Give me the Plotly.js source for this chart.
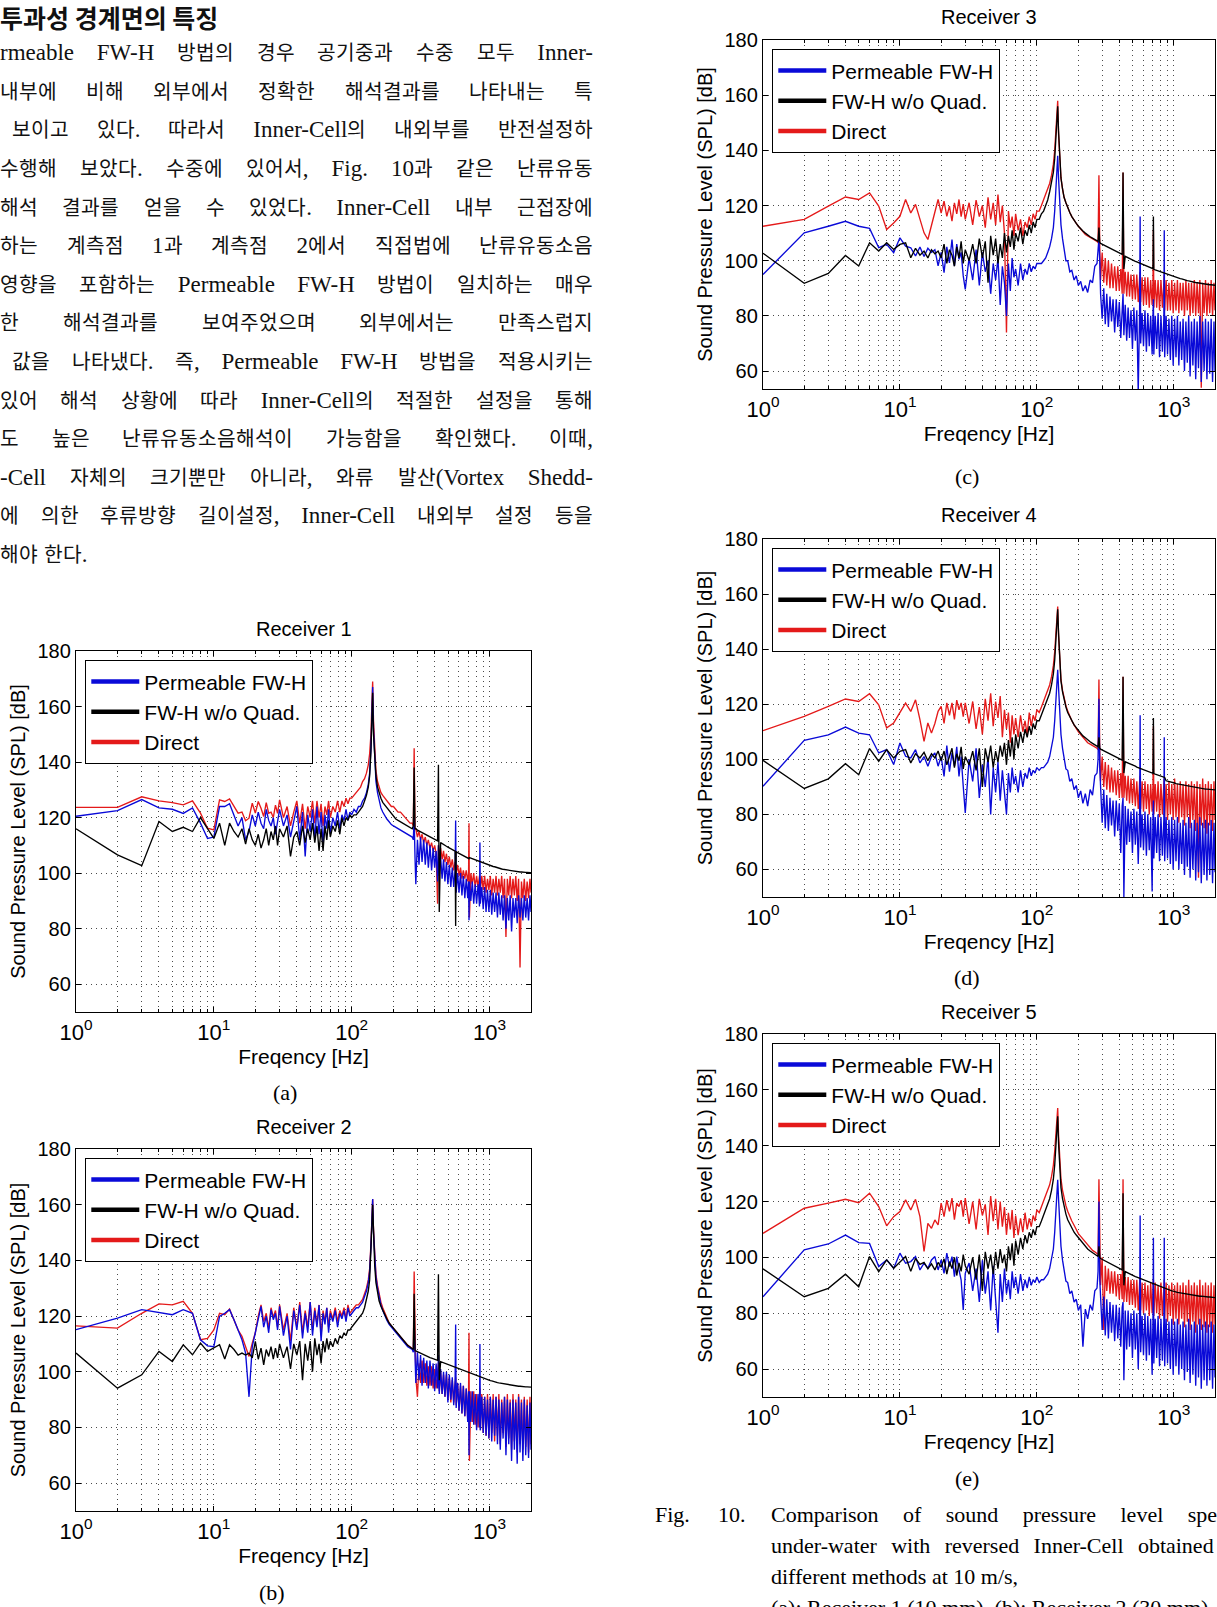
<!DOCTYPE html>
<html>
<head>
<meta charset="utf-8">
<script src="https://cdn.plot.ly/plotly-3.0.1.min.js"></script>
<style>
@font-face{font-family:"KRText";src:local("Noto Sans CJK KR"),local("Noto Sans CJK KR Regular"),local("NotoSansCJKkr-Regular"),local("NotoSansCJKKR-Regular");size-adjust:88%;unicode-range:U+1100-11FF,U+3130-318F,U+AC00-D7AF;}
html,body{margin:0;padding:0;background:#fff;}
#page{position:relative;width:1217px;height:1607px;overflow:hidden;background:#fff;}
#chart{position:absolute;left:0;top:0;width:1217px;height:1607px;}
.txt{position:absolute;left:0;width:593px;height:38px;line-height:38px;font-family:"Liberation Serif","KRText","Noto Sans CJK KR",serif;font-size:23px;color:#111;white-space:nowrap;}
.j{text-align:justify;text-align-last:justify;text-justify:inter-word;white-space:normal;}
.head{top:0;height:34px;line-height:34px;font-family:"Noto Sans CJK KR",sans-serif;font-weight:bold;font-size:25px;}
.cap{position:absolute;height:31px;line-height:31px;font-family:"Liberation Serif",serif;font-size:22px;color:#000;white-space:nowrap;}
.capj{left:771px;width:479px;text-align:justify;text-align-last:justify;white-space:normal;}
</style>
</head>
<body>
<div id="page">
<div id="chart"></div>
<div class="txt head">투과성 경계면의 특징</div>
<div class="txt j" style="top:34px;">rmeable FW-H 방법의 경우 공기중과 수중 모두 Inner-</div>
<div class="txt j" style="top:73px;">내부에 비해 외부에서 정확한 해석결과를 나타내는 특</div>
<div class="txt j" style="top:111px;left:12px;width:581px;">보이고 있다. 따라서 Inner-Cell의 내외부를 반전설정하</div>
<div class="txt j" style="top:150px;">수행해 보았다. 수중에 있어서, Fig. 10과 같은 난류유동</div>
<div class="txt j" style="top:189px;">해석 결과를 얻을 수 있었다. Inner-Cell 내부 근접장에</div>
<div class="txt j" style="top:227px;">하는 계측점 1과 계측점 2에서 직접법에 난류유동소음</div>
<div class="txt j" style="top:266px;">영향을 포함하는 Permeable FW-H 방법이 일치하는 매우</div>
<div class="txt j" style="top:304px;">한 해석결과를 보여주었으며 외부에서는 만족스럽지</div>
<div class="txt j" style="top:343px;left:12px;width:581px;">값을 나타냈다. 즉, Permeable FW-H 방법을 적용시키는</div>
<div class="txt j" style="top:382px;">있어 해석 상황에 따라 Inner-Cell의 적절한 설정을 통해</div>
<div class="txt j" style="top:420px;">도 높은 난류유동소음해석이 가능함을 확인했다. 이때,</div>
<div class="txt j" style="top:459px;">-Cell 자체의 크기뿐만 아니라, 와류 발산(Vortex Shedd-</div>
<div class="txt j" style="top:497px;">에 의한 후류방향 길이설정, Inner-Cell 내외부 설정 등을</div>
<div class="txt" style="top:536px;">해야 한다.</div>

<div class="cap" style="left:655px;top:1499px;">Fig.</div>
<div class="cap" style="left:718px;top:1499px;">10.</div>
<div class="cap capj" style="top:1499px;">Comparison of sound pressure level spectra</div>
<div class="cap capj" style="top:1530px;">under-water with reversed Inner-Cell obtained by</div>
<div class="cap" style="left:771px;top:1561px;">different methods at 10 m/s,</div>
<div class="cap" style="left:771px;top:1592px;">(a): Receiver 1 (10 mm), (b): Receiver 2 (30 mm),</div>
</div>

<script>
// ---------------- DATA ----------------
const freq = [
1,2,3,4,5,6,7,8,9,10,11,12,13,14,15,16,17,18,19,20,21,22,23,24,25,26,27,28,29,30,
32,34,36,38,40,42,44,46,48,50,52,54,56,58,60,62,64,66,68,70,73,76,79,82,85,88,91,94,97,100,104,108,112,116,120,124,128,132,135,138,
140,142,144,147,150,154,158,163,168,174,180,187,194,201,209,217,226,235,245,255,265,275,280,284,288,
292,300,308,316,324,333,342,351,360,370,380,390,400,410,420,426,432,442,453,464,
475,487,499,511,524,537,550,563,568,573,587,601,616,631,646,662,678,695,705,710,
715,732,750,768,787,806,826,846,852,858,879,900,922,944,967,990,1014,1038,1063,1089,
1115,1142,1169,1197,1226,1255,1285,1316,1347,1379,1412,1446,1480,1515,1551,1588,1626,1665,1705,1746,
1788,1831,1875,1920,1966,2000
];

// Receiver 1
const r1Blue = [
120.5,122.5,126.5,123.5,123,121.5,123.5,118,112.5,113,124,124,125,121,117,120,112,115,121,117,122,118,116,123,119,117,120,114,119,123,
117,121,113,119,124,112,122,106,121,115,123,112,124,114,122,110,121,116,123,114,120,117,122,116,121,119,123,119,122,121,123,122,124,124,126,127,129,132,136,145,
157,167,152,140,133,129,126,123.5,122,120.5,119.5,118.5,117.5,117,116.5,116,115.5,115,114.5,114,113.5,113,112,120,106,
96,112,103,113,104,112,103,111,102,110,101,109,102,108,97,110,99,106,98,105,
97,104,96,103,95,102,95,101,119,93,100,93,100,92,99,91,98,91,97,83,
97,90,97,89,96,89,96,88,111,89,95,87,95,86,94,86,94,85,93,86,
93,84,93,85,92,83,92,80,91,83,92,79,91,84,91,82,92,84,91,83,
92,84,91,83,92,86
];
const r1Black = [
116,106.6,102.7,118.6,115,116.5,115,120,116,112.5,118,110,118,115,113,116,110.5,116,112,110,114,109,112,116,110,115,112,117,110,116,
113,117,106,113,115,110,117,111,116,112,118,111,117,108,116,108,117,112,119,113,117,115,119,114,120,117,120,119,121,120,121,121,122,123,124,126,128,131,135,144,
155,165,150,140,135,131,129,127,125.5,124.5,123.5,122.5,121.5,120.5,119.5,119,118.5,118,117.5,117,116.5,116,117,138,116,
116,115.5,115.2,114.9,114.6,114.3,114,113.7,113.4,113.1,112.8,112.5,112.2,111.9,111.6,139,86,111,110.6,110.3,
110,109.7,109.4,109.1,108.8,108.5,108.2,107.9,81,107.7,107.4,107.1,106.8,106.5,106.2,106,105.7,105.4,105.3,105.2,
105.6,105.4,105.2,105,104.8,104.6,104.4,104.2,104.2,104.1,103.9,103.7,103.5,103.3,103.1,103,102.8,102.6,102.4,102.3,
102.1,101.9,101.8,101.6,101.5,101.4,101.3,101.2,101.1,101,100.9,100.8,100.7,100.7,100.6,100.5,100.5,100.4,100.4,100.3,
100.3,100.3,100.3,100.2,100.2,100.2
];
const r1Red = [
123.7,123.7,127.5,126,125.4,124.6,126,121.6,116.2,115.6,126.4,125.8,126.7,124.2,121.6,122,118.9,119.8,125.2,121.6,125.8,123.4,120.4,125.4,121.6,122,120,124.5,121.5,126.4,
120,124,117,122,126,118,125,116,124,120,126,118,126,120,125,117,124,121,126,120,124,122,126,122,126,124,127,125,127,127,128,129,130,131,133,134,136,139,143,150,
160,169,155,143,137,133,131,129,128,127,126,125,124,124,123,122,122,121,120,119,118,118,117,145,116,
116,113,115,112,114,111,113,110,112,109,111,108,110,107,89,110,106,109,105,108,
104,107,103,106,102,105,101,104,103,100,103,99,102,98,101,98,101,97,100,118,
84,100,96,100,95,99,95,99,97,94,99,94,99,93,98,94,99,92,98,93,
99,92,98,93,99,91,98,77,98,92,99,91,98,92,99,90,98,66,97,91,
98,90,97,91,98,93
];

// Receiver 2
const r2Blue = [
115.1,119.3,122.3,121.3,120.5,122.3,121,111.5,109.3,109,119.9,121,122.3,118.7,115,111.5,106.7,91,109,113.9,118.7,123.5,116,120,114,122.3,118.7,121,115,123.5,
113,120,108,122,115,124,112,121,114,125,113,122,116,124,111,121,117,123,114,121,118,122,116,121,119,122,118,123,120,121,122,123,123,124,125,127,129,132,136,145,
155,162,150,140,134,130,127,124,122,120,118.5,117,116,115,114,113,112,111,110,109,108.5,108,107,118,106,
96,107,97,106,95,105,96,104,94,104,95,103,93,103,94,106,92,101,92,100,
91,100,89,99,90,98,88,97,117,87,96,86,96,85,95,84,94,82,93,70,
93,82,93,81,92,79,92,80,110,79,91,78,91,77,90,76,91,75,90,77,
91,74,90,72,89,76,91,70,90,74,89,68,90,72,89,67,91,71,89,68,
90,70,88,69,89,72
];
const r2Black = [
106.7,94.1,98.9,107.3,103.7,109.7,106.1,110.3,107.3,108.5,109.7,104.6,109.7,108,106,106.7,106,106.7,105,110.9,104.5,108.5,102.5,108,105.5,109,104.5,108.5,105,110,
105,109,101,110,106,111,97,110,104,111,100,112,106,110,103,111,107,112,108,111,109,112,110,113,112,114,113,115,115,116,117,118,119,120,121,123,126,129,133,142,
152,160,148,138,132,128,125.5,123.5,122,120.5,119,117.5,116.5,115.5,114.5,113.5,112.5,111.5,110.5,109.5,109,108.5,108,128,107.5,
107.5,107.2,107,106.7,106.4,106.1,105.9,105.6,105.4,105.1,104.9,104.7,104.5,104.3,104.1,135,97,103.6,103.4,103.2,
103,102.8,102.6,102.4,102.2,102,101.8,101.6,101.5,101.4,101.2,101,100.8,100.6,100.4,100.2,100,99.8,99.7,99.6,
99.5,99.3,99.1,98.9,98.7,98.5,98.3,98.1,98,98,97.8,97.6,97.4,97.3,97.1,97,96.8,96.7,96.5,96.4,
96.3,96.1,96,95.9,95.8,95.7,95.6,95.5,95.4,95.3,95.2,95.1,95.1,95,94.9,94.9,94.8,94.8,94.7,94.7,
94.6,94.6,94.6,94.5,94.5,94.5
];
const r2Red = [
116.5,115.7,121,124.4,124,125.3,121,111.5,112,115,121,120.5,122.5,118.7,115,112.7,109,105.5,110.3,114,120,124,118,121,115.5,123,119.5,122,116,124,
115,121,111,123,116,125,114,122,116,125,115,123,117,124,113,122,118,123,116,122,119,123,118,122,120,123,119,124,121,122,123,124,124,125,126,128,130,133,137,146,
156,162,151,141,135,131,128,125,123,121,119,117.5,116.5,115.5,114.5,113.5,112.5,111.5,110.5,109.5,109,108.5,108,136,107,
98,91,103,96,104,96,103,95,102,95,102,94,101,94,100,103,93,100,92,99,
91,99,90,98,89,97,89,96,98,88,96,86,95,85,95,84,94,83,93,114,
68,93,82,93,81,92,80,92,94,79,92,78,91,77,92,76,91,78,92,75,
91,77,92,74,90,78,91,73,92,76,90,72,92,75,90,71,92,74,90,72,
91,73,90,71,91,74
];

// Receiver 3
const r3Blue = [
95,110.1,112.5,114.3,112.5,111.7,104.7,105.9,102.9,108.3,105.3,104.7,101.7,105,101.5,104.5,103,104,98.1,103,95.7,105,99.2,107.7,98.1,106,100.5,103,94.5,89.6,
101,93,104,91,103,96,100,88,99,93,101,84,98,92,80,99,89,101,94,97,91,99,93,97,95,99,96,98,97,99,99,99,100,101,103,105,108,112,118,127,
134,138,130,120,113,108,105,100,100,96,96.5,93,94.5,91,92.5,89,91,88.5,93,92,98,99,104,108,100,
88,79,90,77,88,76,87,78,86,74,86,76,85,72,84,88,73,84,71,83,
72,82,68,83,71,82,52,82,116,70,81,69,82,67,81,69,80,66,81,86,
66,80,68,81,65,80,67,79,111,65,80,66,79,64,80,62,79,65,80,62,
78,64,79,60,78,63,80,58,78,62,79,57,78,61,80,56,78,60,79,57,
78,59,79,56,78,60
];
const r3Black = [
102.7,91.8,95.4,101.9,98.1,106.5,103.5,106.5,104.1,105.9,106.5,101.1,104.5,102,103.5,101,104,102.5,103.5,101,106,99,104,102,98,105,101,107,99,104,
100,106,99,108,101,107,92,109,102,108,99,106,101,110,103,109,105,111,104,110,107,112,106,111,109,113,110,114,112,115,115,117,118,120,122,125,128,132,137,145,
151,156,147,136,130,126,123,121,119,117.5,116,114.5,113.5,112.5,111.5,110.8,110,109.3,108.7,108.2,107.7,107.3,107,112,106.6,
106.3,106,105.7,105.4,105.1,104.8,104.5,104.2,103.9,103.6,103.3,103,102.8,102.5,102.3,132,97,101.6,101.3,101.1,
100.8,100.6,100.3,100.1,99.8,99.6,99.4,99.1,99,98.9,98.7,98.5,98.2,98,97.8,97.6,97.4,97.2,97.1,116,
96.9,96.7,96.5,96.3,96.1,95.9,95.7,95.5,95.5,95.4,95.2,95,94.8,94.7,94.5,94.3,94.2,94,93.8,93.7,
93.5,93.4,93.2,93.1,92.9,92.8,92.7,92.5,92.4,92.3,92.2,92.1,92,91.9,91.8,91.7,91.6,91.6,91.5,91.4,
91.4,91.3,91.3,91.2,91.2,91.1
];
const r3Red = [
112.5,115,119.8,123.1,122.2,124.6,119.8,111.3,113.7,116.1,122.2,117.3,120.4,115,110.1,107.7,112.5,117.3,122.2,117.3,121.6,116.1,119.8,114.3,121,117,122.2,116,120.5,115,
121,113,122,116,120,112,123,115,121,113,124,114,120,110,74,118,112,116,109,117,111,115,109,114,112,116,113,117,115,118,118,120,122,124,126,128,131,135,140,148,
153,158,146,136,130,126,123,121,119,117.5,116,114.5,113.5,112.5,111.5,110.5,109.5,109,108.5,108,107.5,107,106.5,131,105,
93,103,92,101,91,100,90,99,90,98,89,98,89,97,88,132,88,96,87,96,
87,95,86,95,86,95,85,94,96,85,94,84,94,84,94,83,93,84,93,111,
83,93,83,93,82,93,83,92,95,82,93,82,92,82,93,81,92,82,93,81,
92,82,92,80,93,82,92,80,92,81,93,80,92,81,93,54,92,81,93,80,
92,81,93,80,92,82
];

// Receiver 4
const r4Blue = [
90.2,106.9,108.9,111.7,109.5,108.9,102.3,103.5,98.1,105.9,101.1,100.5,103.5,98.7,101,97.5,101,102.3,97.5,101,93.8,105,95.5,102.3,97.5,104.5,93.8,101,90.2,80.5,
100,92,104,86,98,90,101,80,97,88,99,85,96,89,80,95,88,97,91,94,88,96,90,95,93,97,94,96,95,97,96,97,97,98,99,101,104,108,114,123,
129,132.5,126,116,109,104,101,96.5,96,92,93,89,90.5,86,88.5,84,87.5,83,89,87,94,95,100,122,97,
88,77,89,75,87,74,86,76,85,72,85,74,84,66,83,86,50,83,69,82,
70,81,66,82,69,81,62,81,116,68,80,67,81,65,80,67,79,52,80,85,
64,79,66,80,63,79,65,78,108,63,79,64,78,62,79,60,78,63,79,60,
77,62,78,58,77,61,79,57,77,60,78,56,77,59,79,55,77,58,78,56,
77,58,78,55,77,59
];
const r4Black = [
99.6,89.4,92.9,98.4,94.4,103.9,99.3,103.5,100.5,102.9,103.5,98.7,102,100.5,102.5,99.5,102,100.5,103,99.5,103,98,101,104,97,102,99.5,104.5,96.5,101,
98,103,96,104,90,104,99,105,97,103,99,105,101,106,98,107,101,108,100,109,104,110,106,111,108,112,109,113,111,114,114,116,118,120,122,124,127,131,136,144,
150,154.5,146,135,128.5,124.5,121.5,119,117,115.5,114,112.5,111.5,110.5,109.5,108.5,107.8,107,106.4,105.8,105.3,104.8,104.5,108,104,
103.7,103.4,103.1,102.8,102.5,102.2,101.9,101.6,101.3,101,100.7,100.5,100.2,100,99.7,130,95,99.1,98.9,98.6,
98.4,98.1,97.9,97.7,97.5,97.2,97,96.8,96.7,96.6,96.4,96.2,96,95.8,95.6,95.4,95.2,95,94.9,115,
94.8,94.6,94.4,94.2,94,93.8,93.7,93.5,93.5,93.4,92.2,92.1,91.9,91.8,91.6,91.5,91.4,91.2,91.1,91,
90.9,90.8,90.6,90.5,90.4,90.3,90.2,90.1,90,89.9,89.8,89.7,89.6,89.5,89.5,89.4,89.3,89.3,89.2,89.2,
89.1,89.1,89,89,88.9,88.9
];
const r4Red = [
110.4,115.6,119.2,121.9,121,123.8,119.8,111.4,113.2,116.8,120.4,117.4,121.6,114.4,106.5,113.2,109.5,113,117.4,119.2,113,120.5,116,120.5,114.5,121.5,118,120.5,115.5,120.5,
113,121,111,119,109,122,114,124,112,121,115,123,108,118,111,117,106,116,109,115,108,116,110,114,109,117,112,116,114,118,117,119,121,123,125,127,130,134,139,147,
152,155.5,145,135,129,125,122,119.5,117.5,115.5,114,112.5,111,110,109,108,107,106,105.5,105,104.5,104,103.5,129,103,
92,101,90,99,89,98,88,97,88,96,87,96,86,95,86,130,86,94,85,94,
84,93,84,93,83,92,82,92,94,82,92,81,92,82,91,80,91,81,91,112,
80,91,81,92,79,91,80,91,93,79,91,78,92,80,91,78,93,79,91,77,
92,79,91,76,92,79,91,75,92,78,91,74,92,57,91,76,93,75,91,73,
92,76,91,74,92,78
];

// Receiver 5
const r5Blue = [
85.9,102.7,104.8,108,105.3,105,96.7,99.1,96.1,101.5,97.9,98.5,100.3,95.5,97.9,96.1,99.1,100.3,95.5,99.1,94.3,101.5,96.7,100.3,93.1,100.3,95.5,91.9,81.2,94.3,
98,88,96,84,99,87,95,81,97,86,73,94,84,96,87,92,85,95,89,93,87,94,88,92,89,93,90,92,91,93,91,92,92,93,94,96,99,103,109,118,
124,127.8,121,111,104,99,96,91.5,91,87,88,84,85,81,83,68,81.5,78,83,81,88,89,95,120,92,
84,74,86,72,85,71,84,73,83,70,83,71,82,68,82,84,56,81,67,81,
68,80,64,81,67,80,60,80,115,66,79,65,80,63,79,65,78,58,79,107,
62,78,64,79,61,78,63,77,107,61,78,62,77,60,78,58,77,61,78,58,
76,60,77,56,76,59,78,55,76,58,77,54,76,57,78,53,76,56,77,54,
76,56,77,53,76,57
];
const r5Black = [
95.9,85.9,88.9,94,89.5,100.3,94.9,99.1,96.1,98.5,100.3,95,99.6,97.5,98.2,95.9,97.7,95.5,98.2,96.5,99.5,94,98.5,96,100,93.5,98,95,101,97,
94,100,92,101,88,102,96,101,94,102,96,103,98,101,95,104,99,105,97,106,101,107,103,108,105,109,107,110,108,111,111,113,115,117,119,121,124,128,133,141,
146,150.5,141,131,125,121,118,115.5,113.5,112,110.5,109,108,107,106,105,104,103,102.3,101.7,101.2,100.7,100.3,104,99.9,
99.6,99.3,99,98.7,98.4,98.1,97.8,97.5,97.2,96.9,96.6,96.3,96,95.8,95.5,123,90,94.9,94.6,94.4,
94.1,93.9,93.6,93.4,93.1,92.9,92.7,92.4,92.3,92.2,92,91.8,91.6,91.4,91.2,91,90.8,90.6,90.5,90.4,
90.3,90.1,89.9,89.7,89.5,89.3,89.1,88.9,88.9,88.8,88.6,88.5,88.3,88.2,88,87.9,87.7,87.6,87.5,87.4,
87.3,87.2,87.1,87,86.9,86.8,86.7,86.6,86.5,86.4,86.4,86.3,86.2,86.2,86.1,86.1,86,86,85.9,85.9,
85.8,85.8,85.7,85.7,85.7,85.6
];
const r5Red = [
108.6,117.6,119.4,120.8,119.6,123,118.2,111.3,114.6,116.4,120.6,117,120.8,114.6,102.1,112.2,110.4,113.4,111.6,119.4,114.6,120.5,116.5,121.2,113.5,119.4,118.2,120.5,114.6,121.2,
112,120,110,121,115,119,108,122,113,121,110,120,111,118,108,116,110,117,107,115,108,114,109,116,110,114,111,115,113,117,116,118,120,122,124,126,129,133,138,146,
151,153.5,144,134,128,124,121,118.5,116.5,114.5,113,111.5,110,108.5,107.5,106.5,105.5,104.5,103.5,102.5,102,101.5,101,128,100.5,
90,100,74,97,88,96,87,95,87,95,86,94,85,94,85,128,84,93,84,93,
83,92,83,92,82,92,81,91,93,81,91,80,91,81,90,79,91,80,90,92,
79,91,80,90,78,91,79,90,92,78,91,77,90,79,91,76,90,78,91,76,
90,78,91,75,90,77,92,74,90,77,91,73,90,76,92,74,90,75,91,73,
90,75,91,73,90,76
];

const seriesNames = ['Permeable FW-H', 'FW-H w/o Quad.', 'Direct'];
const panelTitles = ['Receiver 1', 'Receiver 2', 'Receiver 3', 'Receiver 4', 'Receiver 5'];
const panelLabels = ['(a)', '(b)', '(c)', '(d)', '(e)'];
const xTickVals = [1, 10, 100, 1000];
const xTickText = ['10<sup>0</sup>', '10<sup>1</sup>', '10<sup>2</sup>', '10<sup>3</sup>'];
const xMinorVals = [2,3,4,5,6,7,8,9,20,30,40,50,60,70,80,90,200,300,400,500,600,700,800,900];
const yTickVals = [60, 80, 100, 120, 140, 160, 180];
const xTitle = 'Freqency [Hz]';
const yTitle = 'Sound Pressure Level (SPL) [dB]';

// ---------------- LAYOUT / STYLE ----------------
const W = 1217, H = 1607;
const colors = ['#0a0ad8', '#000000', '#e41a1a']; // blue, black, red
const panelData = [
  [r1Blue, r1Black, r1Red],
  [r2Blue, r2Black, r2Red],
  [r3Blue, r3Black, r3Red],
  [r4Blue, r4Black, r4Red],
  [r5Blue, r5Black, r5Red]
];
const boxes = [
  {l: 76,  r: 531,  t: 651,  b: 1012, ymin: 50,   ty: 629,  lx: 285, ly: 1092},
  {l: 76,  r: 531,  t: 1149, b: 1511, ymin: 50,   ty: 1127, lx: 272, ly: 1592},
  {l: 763, r: 1215, t: 40,   b: 389,  ymin: 53.5, ty: 17,   lx: 967, ly: 477},
  {l: 763, r: 1215, t: 539,  b: 897,  ymin: 50,   ty: 515,  lx: 967, ly: 977},
  {l: 763, r: 1215, t: 1034, b: 1397, ymin: 50,   ty: 1012, lx: 967, ly: 1478}
];

const FONT = 'Liberation Sans, Arial, sans-serif';
const gridStyle = {gridcolor: '#4a4a4a', griddash: '1px,4px', gridwidth: 1};
const noValues = freq.map(() => null);  // legend-only traces draw nothing

const traces = [];
const layout = {
  width: W, height: H,
  margin: {l: 0, r: 0, t: 0, b: 0},
  paper_bgcolor: 'rgba(0,0,0,0)',
  plot_bgcolor: '#fff',
  font: {family: FONT, color: '#000'},
  showlegend: true,
  annotations: []
};

boxes.forEach((bx, p) => {
  const s = p === 0 ? '' : String(p + 1);
  const xa = 'x' + s, ya = 'y' + s;
  const leg = 'legend' + s;
  const vals = panelData[p];
  [2, 0, 1].forEach(k => {
    traces.push({
      type: 'scatter', mode: 'lines', x: freq, y: vals[k],
      xaxis: xa, yaxis: ya, name: seriesNames[k],
      line: {color: colors[k], width: 1.35}, showlegend: false, hoverinfo: 'skip'
    });
  });
  [0, 1, 2].forEach(k => {
    traces.push({
      type: 'scatter', mode: 'lines', x: freq, y: noValues,
      xaxis: xa, yaxis: ya, name: seriesNames[k],
      line: {color: colors[k], width: 4.5}, showlegend: true, legend: leg, hoverinfo: 'skip'
    });
  });

  layout['xaxis' + s] = Object.assign({
    type: 'log', range: [0, Math.log10(2000)],
    domain: [bx.l / W, bx.r / W], anchor: ya,
    tickmode: 'array', tickvals: xTickVals, ticktext: xTickText,
    tickfont: {family: FONT, size: 22, color: '#000'},
    ticks: 'inside', ticklen: 5, tickcolor: '#000', tickwidth: 1,
    showline: true, linecolor: '#000', linewidth: 1.2, mirror: 'allticks',
    showgrid: true, zeroline: false,
    minor: Object.assign({tickmode: 'array', tickvals: xMinorVals, ticks: 'inside', ticklen: 3, tickcolor: '#000', showgrid: true}, gridStyle),
    title: {text: xTitle, font: {family: FONT, size: 21, color: '#000'}, standoff: 4},
    fixedrange: true
  }, gridStyle);

  layout['yaxis' + s] = Object.assign({
    range: [bx.ymin, 180],
    domain: [1 - bx.b / H, 1 - bx.t / H], anchor: xa,
    tickmode: 'array', tickvals: yTickVals,
    tickfont: {family: FONT, size: 20, color: '#000'},
    ticks: 'inside', ticklen: 5, tickcolor: '#000', tickwidth: 1,
    showline: true, linecolor: '#000', linewidth: 1.2, mirror: 'allticks',
    showgrid: true, zeroline: false,
    title: {text: yTitle, font: {family: FONT, size: 20, color: '#000'}, standoff: 6},
    fixedrange: true
  }, gridStyle);

  layout[leg] = {
    x: (bx.l + 9) / W, y: 1 - (bx.t + 9) / H, xref: 'paper', yref: 'paper',
    xanchor: 'left', yanchor: 'top',
    bgcolor: '#ffffff', bordercolor: '#000', borderwidth: 1.3,
    font: {family: FONT, size: 21, color: '#000'},
    itemwidth: 48, traceorder: 'normal', tracegroupgap: 0
  };

  layout.annotations.push({
    text: panelTitles[p], xref: 'paper', yref: 'paper',
    x: (bx.l + bx.r) / 2 / W, y: 1 - bx.ty / H,
    xanchor: 'center', yanchor: 'middle', showarrow: false,
    font: {family: FONT, size: 20, color: '#000'}
  });
  layout.annotations.push({
    text: panelLabels[p], xref: 'paper', yref: 'paper',
    x: bx.lx / W, y: 1 - bx.ly / H,
    xanchor: 'center', yanchor: 'middle', showarrow: false,
    font: {family: 'Liberation Serif, Times New Roman, serif', size: 22, color: '#000'}
  });
});

Plotly.newPlot('chart', traces, layout, {staticPlot: true, displayModeBar: false});
</script>
</body>
</html>
